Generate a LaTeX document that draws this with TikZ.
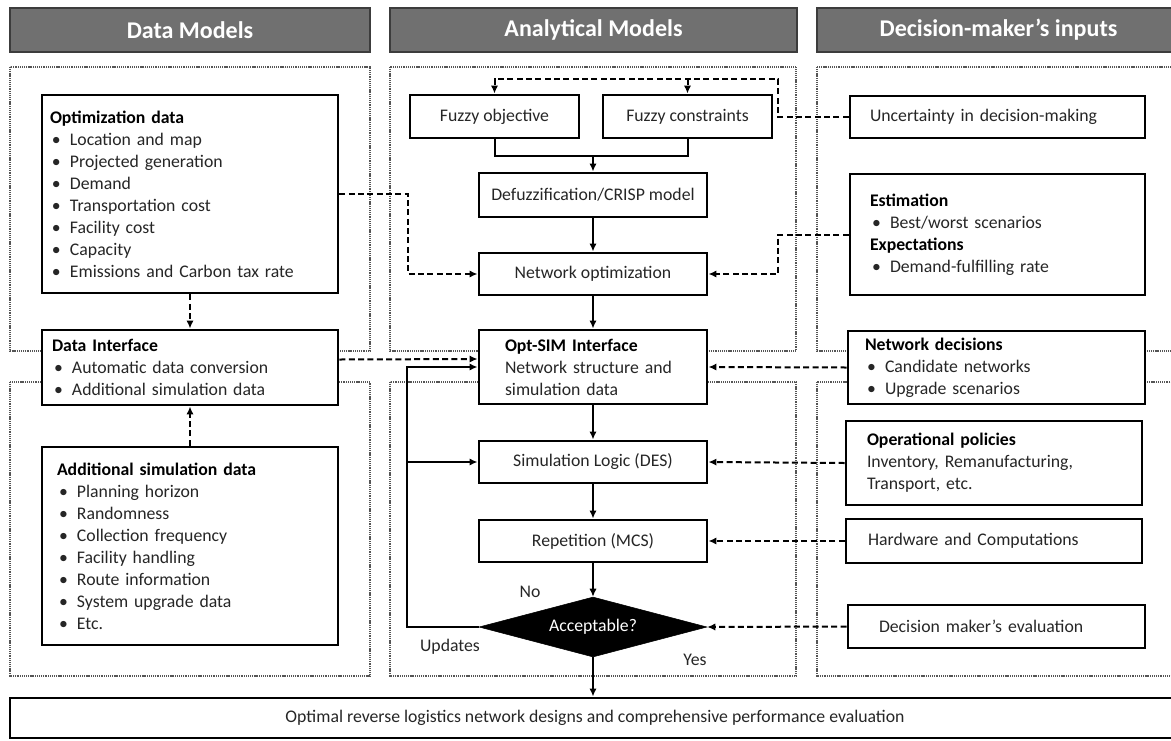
\documentclass[tikz,border=0pt]{standalone}
\usepackage{fontspec}
\setmainfont{Carlito}
\usetikzlibrary{shapes.geometric,arrows.meta}
\definecolor{txt}{HTML}{262626}
\definecolor{hdr}{HTML}{707070}
\definecolor{hdrb}{HTML}{3C3C3C}
\definecolor{pnl}{HTML}{555555}
\newcommand\bodyf{\fontsize{13.3}{16.5}\selectfont}
\newcommand\bul[1]{\hspace*{1.5pt}\makebox[13.5pt][l]{\textbullet}#1}
\begin{document}
\begin{tikzpicture}[x=0.75pt,y=-0.75pt,
  hdrbox/.style={draw=hdrb, line width=1.6pt, fill=hdr, text=white,
    font=\fontsize{18}{21}\selectfont\bfseries, inner sep=0pt},
  panel/.style={draw=pnl, line width=0.8pt, dash pattern=on 0.8pt off 0.6pt},
  box/.style={draw=black, line width=2.2pt, fill=white, font=\bodyf, text=txt, inner ysep=0pt},
  lbox/.style={box, align=left},
  cbox/.style={box, align=center, inner xsep=0pt},
  arr/.style={line width=1.5pt, -{Latex[length=6pt,width=5.5pt]}},
  sline/.style={line width=1.5pt},
  darr/.style={line width=1.5pt, dash pattern=on 4.5pt off 2.5pt, -{Latex[length=6pt,width=5.5pt]}},
  lbl/.style={font=\bodyf, text=txt, inner sep=0pt}
]
\useasboundingbox (0,0) rectangle (1171,740);
\clip (0,0) rectangle (1171,740);

% dotted panels
\draw[panel] (10,67) rectangle (370,351);
\draw[panel] (10,382) rectangle (370,676);
\draw[panel] (390,67) rectangle (796,351);
\draw[panel] (390,382) rectangle (796,676);
\draw[panel] (817,67) rectangle (1185,351);
\draw[panel] (817,382) rectangle (1185,676);

% headers
\node[hdrbox, minimum width=270pt, minimum height=33pt] (h1) at (190,30) {Data Models};
\node[hdrbox, minimum width=305.25pt, minimum height=33pt] (h2) at (593.5,30) {Analytical Models};
\node[hdrbox, minimum width=272.25pt, minimum height=33pt] (h3) at (998.5,30) {Decision-maker’s inputs};

% left column
\node[lbox, minimum width=222pt, minimum height=148.5pt, inner xsep=6pt, text width=210pt] (optd) at (190,194)
{\textbf{\color{black}Optimization data}\\
\bul{Location and map}\\
\bul{Projected generation}\\
\bul{Demand}\\
\bul{Transportation cost}\\
\bul{Facility cost}\\
\bul{Capacity}\\
\bul{Emissions and Carbon tax rate}};

\node[lbox, minimum width=222pt, minimum height=56.25pt, inner xsep=7.5pt, text width=207pt] (dint) at (190,367.5)
{\textbf{\color{black}Data Interface}\\
\bul{Automatic data conversion}\\
\bul{Additional simulation data}};

\node[lbox, minimum width=222pt, minimum height=148.5pt, inner xsep=11.25pt, text width=199.5pt] (asim) at (190,546)
{\textbf{\color{black}Additional simulation data}\\
\bul{Planning horizon}\\
\bul{Randomness}\\
\bul{Collection frequency}\\
\bul{Facility handling}\\
\bul{Route information}\\
\bul{System upgrade data}\\
\bul{Etc.}};

% middle column
\node[cbox, minimum width=126.75pt, minimum height=32.25pt] (fobj) at (494.5,116.5) {Fuzzy objective};
\node[cbox, minimum width=126.75pt, minimum height=32.25pt] (fcon) at (687.5,116.5) {Fuzzy constraints};
\node[cbox, minimum width=171pt, minimum height=33pt] (defz) at (593,195) {Defuzzification/CRISP model};
\node[cbox, minimum width=171pt, minimum height=31.5pt] (nopt) at (593,274) {Network optimization};
\node[lbox, minimum width=171pt, minimum height=55.5pt, inner xsep=19.5pt, text width=132pt] (osim) at (593,367)
{\textbf{\color{black}Opt-SIM Interface}\\
\mbox{Network structure and}\\
simulation data};
\node[cbox, minimum width=171pt, minimum height=31.5pt] (slog) at (593,462) {Simulation Logic (DES)};
\node[cbox, minimum width=171pt, minimum height=31.5pt] (rep) at (593,541) {Repetition (MCS)};
\node[diamond, aspect=3.8, draw=black, fill=black, text=white, font=\bodyf, minimum width=171pt, minimum height=45pt, inner sep=0pt] (acc) at (593,627) {Acceptable?};

% right column
\node[lbox, minimum width=221.25pt, minimum height=31.5pt, inner xsep=15pt, text width=191.25pt] (unc) at (997.5,117) {Uncertainty in decision-making};
\node[lbox, minimum width=221.25pt, minimum height=90.75pt, inner xsep=15pt, text width=191.25pt] (est) at (997.5,234.5)
{\textbf{\color{black}Estimation}\\
\bul{Best/worst scenarios}\\
\textbf{\color{black}Expectations}\\
\bul{Demand-fulfilling rate}};
\node[lbox, minimum width=222.75pt, minimum height=54.75pt, inner xsep=12.75pt, text width=197.25pt] (ndec) at (996.5,367.5)
{\textbf{\color{black}Network decisions}\\
\bul{Candidate networks}\\
\bul{Upgrade scenarios}};
\node[lbox, minimum width=222pt, minimum height=63pt, inner xsep=15.75pt, text width=190.5pt] (opol) at (994,463)
{\textbf{\color{black}Operational policies}\\
Inventory, Remanufacturing,\\
Transport, etc.};
\node[lbox, minimum width=222pt, minimum height=33pt, inner xsep=16.5pt, text width=189pt] (hw) at (994,541) {Hardware and Computations};
\node[lbox, minimum width=222.75pt, minimum height=32.25pt, inner xsep=23.25pt, text width=176.25pt] (dme) at (996.5,626.5) {Decision maker’s evaluation};

% final box
\node[cbox, minimum width=877.5pt, minimum height=30pt] (final) at (595,718) {Optimal reverse logistics network designs and comprehensive performance evaluation};

% labels
\node[lbl] (no) at (530,592) {No};
\node[lbl] (upd) at (450,647) {Updates};
\node[lbl] (yes) at (695,660) {Yes};

% coordinates
\coordinate (m1) at (593,156);
\coordinate (lp) at (407,627);
\coordinate (c1) at (408,274);
\coordinate (c2) at (778,274);
\coordinate (c3) at (778,79);

% solid connectors
\draw[sline] (fobj.south) |- (m1) -| (fcon.south);
\draw[arr] (m1) -- (defz.north);
\draw[arr] (defz.south) -- (nopt.north);
\draw[arr] (nopt.south) -- (osim.north);
\draw[arr] (osim.south) -- (slog.north);
\draw[arr] (slog.south) -- (rep.north);
\draw[arr] (rep.south) -- (acc.north);
\draw[arr] (acc.south) -- (acc.south |- final.north);
\draw[arr] (acc.west) -- (lp) |- (osim.west);
\draw[arr] (lp |- slog.west) -- (slog.west);

% dashed connectors
\draw[darr] (optd.south) -- (dint.north);
\draw[darr] (asim.north) -- (dint.south);
\draw[darr] (optd.east) -| (c1) -- (nopt.west);
\draw[darr] (est.west) -| (c2) -- (nopt.east);
\draw[darr] (unc.west) -| (c3) -| (fobj.north);
\draw[darr] (fcon.north |- c3) -- (fcon.north);
\draw[darr] ([yshift=6pt]dint.east) -- ([yshift=6pt]osim.west);
\draw[darr] (ndec.west) -- (osim.east);
\draw[darr] (opol.west) -- (slog.east);
\draw[darr] (hw.west) -- (rep.east);
\draw[darr] (dme.west) -- (acc.east);
\end{tikzpicture}
\end{document}
